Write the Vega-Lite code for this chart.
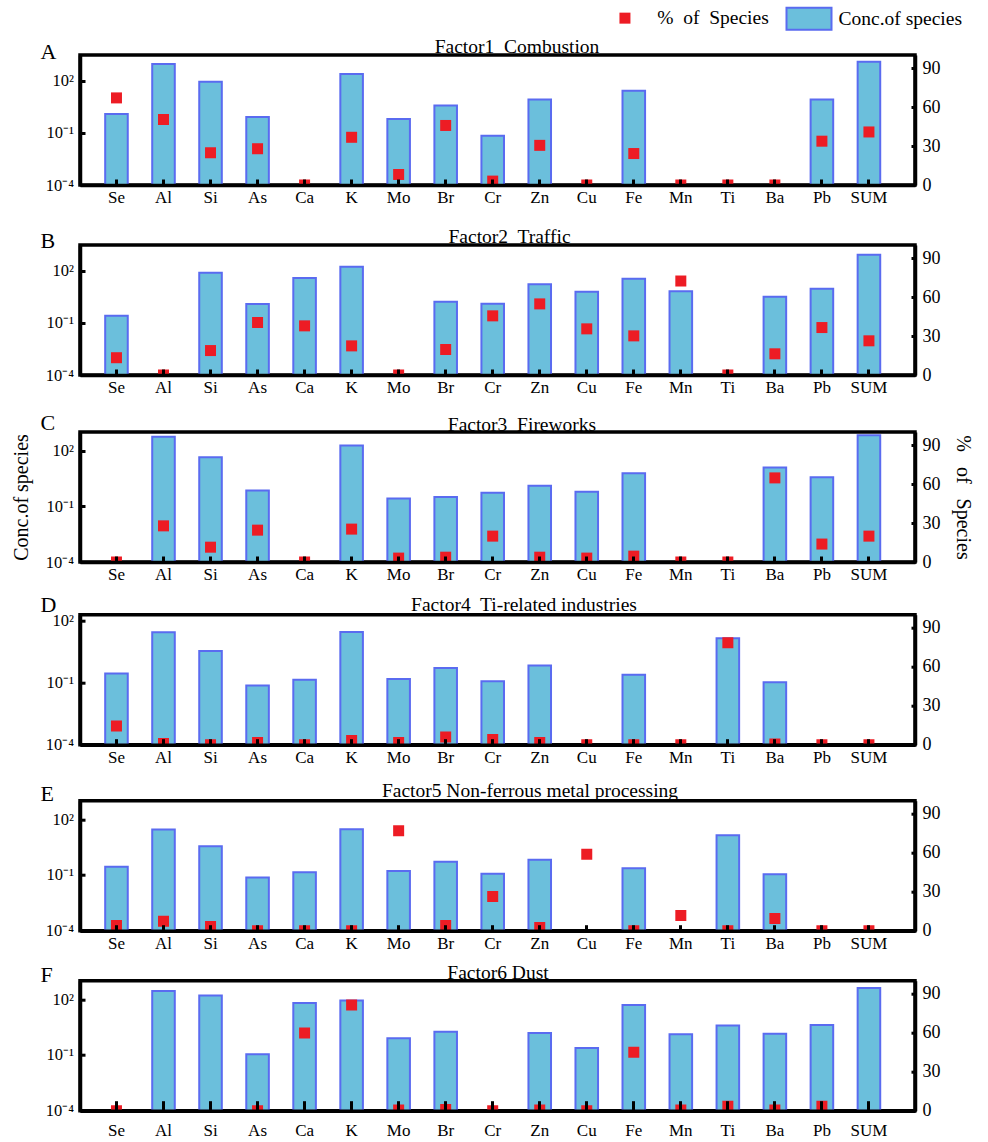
{
  "$schema": "https://vega.github.io/schema/vega-lite/v6.json",
  "background": "white",
  "padding": {"left": 9, "top": 6, "right": 5, "bottom": 5},
  "data": {
    "values": [
      {"panel": "A", "species": "Se", "conc": 1.26, "pct": 67},
      {"panel": "A", "species": "Al", "conc": 950, "pct": 50.4},
      {"panel": "A", "species": "Si", "conc": 91, "pct": 24.8},
      {"panel": "A", "species": "As", "conc": 0.83, "pct": 27.9},
      {"panel": "A", "species": "Ca", "conc": null, "pct": 0},
      {"panel": "A", "species": "K", "conc": 250, "pct": 36.7},
      {"panel": "A", "species": "Mo", "conc": 0.65, "pct": 8.1},
      {"panel": "A", "species": "Br", "conc": 3.8, "pct": 45.8},
      {"panel": "A", "species": "Cr", "conc": 0.069, "pct": 3},
      {"panel": "A", "species": "Zn", "conc": 8.7, "pct": 30.5},
      {"panel": "A", "species": "Cu", "conc": null, "pct": 0},
      {"panel": "A", "species": "Fe", "conc": 27.5, "pct": 24.2},
      {"panel": "A", "species": "Mn", "conc": null, "pct": 0},
      {"panel": "A", "species": "Ti", "conc": null, "pct": 0},
      {"panel": "A", "species": "Ba", "conc": null, "pct": 0},
      {"panel": "A", "species": "Pb", "conc": 8.7, "pct": 33.7},
      {"panel": "A", "species": "SUM", "conc": 1300, "pct": 40.8},
      {"panel": "B", "species": "Se", "conc": 0.26, "pct": 13.3},
      {"panel": "B", "species": "Al", "conc": null, "pct": 0},
      {"panel": "B", "species": "Si", "conc": 80, "pct": 18.8},
      {"panel": "B", "species": "As", "conc": 1.26, "pct": 40.4},
      {"panel": "B", "species": "Ca", "conc": 40, "pct": 37.8},
      {"panel": "B", "species": "K", "conc": 178, "pct": 22.4},
      {"panel": "B", "species": "Mo", "conc": null, "pct": 0},
      {"panel": "B", "species": "Br", "conc": 1.7, "pct": 19.6},
      {"panel": "B", "species": "Cr", "conc": 1.3, "pct": 45.5},
      {"panel": "B", "species": "Zn", "conc": 17, "pct": 54.7},
      {"panel": "B", "species": "Cu", "conc": 6.4, "pct": 35.5},
      {"panel": "B", "species": "Fe", "conc": 36, "pct": 30.1},
      {"panel": "B", "species": "Mn", "conc": 6.7, "pct": 72.3},
      {"panel": "B", "species": "Ti", "conc": null, "pct": 0},
      {"panel": "B", "species": "Ba", "conc": 3.3, "pct": 16.3},
      {"panel": "B", "species": "Pb", "conc": 9.6, "pct": 36.5},
      {"panel": "B", "species": "SUM", "conc": 870, "pct": 26.3},
      {"panel": "C", "species": "Se", "conc": null, "pct": 0},
      {"panel": "C", "species": "Al", "conc": 560, "pct": 27.8},
      {"panel": "C", "species": "Si", "conc": 44, "pct": 11.4},
      {"panel": "C", "species": "As", "conc": 0.71, "pct": 24.5},
      {"panel": "C", "species": "Ca", "conc": null, "pct": 0},
      {"panel": "C", "species": "K", "conc": 186, "pct": 25.3},
      {"panel": "C", "species": "Mo", "conc": 0.26, "pct": 3},
      {"panel": "C", "species": "Br", "conc": 0.32, "pct": 3.7},
      {"panel": "C", "species": "Cr", "conc": 0.53, "pct": 19.9},
      {"panel": "C", "species": "Zn", "conc": 1.26, "pct": 3.7},
      {"panel": "C", "species": "Cu", "conc": 0.6, "pct": 3},
      {"panel": "C", "species": "Fe", "conc": 6.0, "pct": 4.5},
      {"panel": "C", "species": "Mn", "conc": null, "pct": 0},
      {"panel": "C", "species": "Ti", "conc": null, "pct": 0},
      {"panel": "C", "species": "Ba", "conc": 12.3, "pct": 64.7},
      {"panel": "C", "species": "Pb", "conc": 3.7, "pct": 13.8},
      {"panel": "C", "species": "SUM", "conc": 665, "pct": 19.9},
      {"panel": "D", "species": "Se", "conc": 0.28, "pct": 14.4},
      {"panel": "D", "species": "Al", "conc": 28, "pct": 1},
      {"panel": "D", "species": "Si", "conc": 3.5, "pct": 0},
      {"panel": "D", "species": "As", "conc": 0.074, "pct": 1.7},
      {"panel": "D", "species": "Ca", "conc": 0.14, "pct": 0},
      {"panel": "D", "species": "K", "conc": 29, "pct": 3.3},
      {"panel": "D", "species": "Mo", "conc": 0.155, "pct": 1.7},
      {"panel": "D", "species": "Br", "conc": 0.52, "pct": 5.9},
      {"panel": "D", "species": "Cr", "conc": 0.12, "pct": 4},
      {"panel": "D", "species": "Zn", "conc": 0.69, "pct": 1.7},
      {"panel": "D", "species": "Cu", "conc": null, "pct": 0},
      {"panel": "D", "species": "Fe", "conc": 0.245, "pct": 0},
      {"panel": "D", "species": "Mn", "conc": null, "pct": 0},
      {"panel": "D", "species": "Ti", "conc": 14.4, "pct": 78.5},
      {"panel": "D", "species": "Ba", "conc": 0.107, "pct": 0.5},
      {"panel": "D", "species": "Pb", "conc": null, "pct": 0},
      {"panel": "D", "species": "SUM", "conc": null, "pct": 0},
      {"panel": "E", "species": "Se", "conc": 0.28, "pct": 4},
      {"panel": "E", "species": "Al", "conc": 28, "pct": 7.3},
      {"panel": "E", "species": "Si", "conc": 3.5, "pct": 3.2},
      {"panel": "E", "species": "As", "conc": 0.074, "pct": 0},
      {"panel": "E", "species": "Ca", "conc": 0.14, "pct": 0},
      {"panel": "E", "species": "K", "conc": 29, "pct": 0},
      {"panel": "E", "species": "Mo", "conc": 0.165, "pct": 76.9},
      {"panel": "E", "species": "Br", "conc": 0.52, "pct": 4},
      {"panel": "E", "species": "Cr", "conc": 0.118, "pct": 26.4},
      {"panel": "E", "species": "Zn", "conc": 0.67, "pct": 2.4},
      {"panel": "E", "species": "Cu", "conc": null, "pct": 58.9},
      {"panel": "E", "species": "Fe", "conc": 0.23, "pct": 0},
      {"panel": "E", "species": "Mn", "conc": null, "pct": 11.7},
      {"panel": "E", "species": "Ti", "conc": 13.8, "pct": 0},
      {"panel": "E", "species": "Ba", "conc": 0.11, "pct": 9.3},
      {"panel": "E", "species": "Pb", "conc": null, "pct": 0},
      {"panel": "E", "species": "SUM", "conc": null, "pct": 0},
      {"panel": "F", "species": "Se", "conc": null, "pct": 0},
      {"panel": "F", "species": "Al", "conc": 282, "pct": null},
      {"panel": "F", "species": "Si", "conc": 158, "pct": null},
      {"panel": "F", "species": "As", "conc": 0.11, "pct": 0},
      {"panel": "F", "species": "Ca", "conc": 63, "pct": 59.7},
      {"panel": "F", "species": "K", "conc": 85, "pct": 81.3},
      {"panel": "F", "species": "Mo", "conc": 0.8, "pct": 0.5},
      {"panel": "F", "species": "Br", "conc": 1.78, "pct": 0.9},
      {"panel": "F", "species": "Cr", "conc": null, "pct": 0},
      {"panel": "F", "species": "Zn", "conc": 1.55, "pct": 0.5},
      {"panel": "F", "species": "Cu", "conc": 0.24, "pct": 0},
      {"panel": "F", "species": "Fe", "conc": 49, "pct": 45},
      {"panel": "F", "species": "Mn", "conc": 1.3, "pct": 0.5},
      {"panel": "F", "species": "Ti", "conc": 3.9, "pct": 3.5},
      {"panel": "F", "species": "Ba", "conc": 1.4, "pct": 0.5},
      {"panel": "F", "species": "Pb", "conc": 4.1, "pct": 3.5},
      {"panel": "F", "species": "SUM", "conc": 410, "pct": null}
    ]
  },
  "bounds": "flush",
  "spacing": 60,
  "vconcat": [
    {
      "width": 835, "height": 130,
      "title": {"text": "Factor1\u00a0 Combustion", "dx": 19.5, "offset": -17},
      "transform": [{"filter": "datum.panel == 'A'"}],
      "encoding": {
        "x": {"field": "species", "type": "nominal",
          "sort": ["Se","Al","Si","As","Ca","K","Mo","Br","Cr","Zn","Cu","Fe","Mn","Ti","Ba","Pb","SUM"],
          "scale": {"paddingInner": 0.52, "paddingOuter": 0.6375, "align": 0.42},
          "axis": {"title": "A", "titleY": -127, "zindex": 1}}
      },
      "layer": [
        {
          "transform": [{"filter": "isValid(datum.conc)"}],
          "mark": {"type": "bar", "stroke": "#5a6bf0", "strokeWidth": 2},
          "encoding": {
            "y": {"field": "conc", "type": "quantitative",
              "scale": {"type": "log", "domain": [0.0001, 3162], "nice": false},
              "axis": {"title": null, "values": [0.0001, 0.1, 100], "zindex": 1}},
            "y2": {"datum": 0.0001},
            "fill": {"datum": "Conc.of species", "scale": {"range": ["#6bbfdc"]},
              "legend": {"orient": "none", "legendX": 716.5, "legendY": -48.75, "title": null,
                "symbolType": "M-2,-0.98H2V0.98H-2Z", "symbolSize": 506.25, "symbolStrokeColor": "#5a6bf0",
                "symbolStrokeWidth": 2, "labelOffset": 17}}
          }
        },
        {
          "transform": [{"filter": "isValid(datum.pct)"}],
          "mark": {"type": "square", "size": 121, "opacity": 1, "clip": true},
          "encoding": {
            "y": {"field": "pct", "type": "quantitative",
              "scale": {"domain": [0, 100], "nice": false},
              "axis": {"orient": "right", "title": null, "values": [0, 30, 60, 90], "zindex": 1}},
            "color": {"datum": "%\u00a0 of\u00a0 Species", "scale": {"range": ["#ed1c24"]},
              "legend": {"orient": "none", "legendX": 535.2, "legendY": -46.6, "title": null,
                "symbolType": "square", "symbolSize": 121, "labelOffset": 22.5}}
          }
        }
      ],
      "resolve": {"scale": {"y": "independent"}}
    },
    {
      "bounds": "flush",
      "spacing": 57,
      "vconcat": [
        {
          "width": 835, "height": 130,
          "title": {"text": "Factor2\u00a0 Traffic", "dx": 12, "offset": -18.3},
          "transform": [{"filter": "datum.panel == 'B'"}],
          "encoding": {
            "x": {"field": "species", "type": "nominal",
              "sort": ["Se","Al","Si","As","Ca","K","Mo","Br","Cr","Zn","Cu","Fe","Mn","Ti","Ba","Pb","SUM"],
              "scale": {"paddingInner": 0.52, "paddingOuter": 0.6375, "align": 0.42},
              "axis": {"title": "B", "titleY": -127.7, "zindex": 1}}
          },
          "layer": [
            {
              "transform": [{"filter": "isValid(datum.conc)"}],
              "mark": {"type": "bar", "stroke": "#5a6bf0", "strokeWidth": 2},
              "encoding": {
                "y": {"field": "conc", "type": "quantitative",
                  "scale": {"type": "log", "domain": [0.0001, 3162], "nice": false},
                  "axis": {"title": null, "values": [0.0001, 0.1, 100], "zindex": 1}},
                "y2": {"datum": 0.0001},
                "fill": {"datum": "Conc.of species", "scale": {"range": ["#6bbfdc"]}}
              }
            },
            {
              "transform": [{"filter": "isValid(datum.pct)"}],
              "mark": {"type": "square", "size": 121, "opacity": 1, "clip": true},
              "encoding": {
                "y": {"field": "pct", "type": "quantitative",
                  "scale": {"domain": [0, 100], "nice": false},
                  "axis": {"orient": "right", "title": null, "values": [0, 30, 60, 90], "zindex": 1}},
                "color": {"datum": "%\u00a0 of\u00a0 Species", "scale": {"range": ["#ed1c24"]}}
              }
            }
          ],
          "resolve": {"scale": {"y": "independent"}}
        },
        {
          "bounds": "flush",
          "spacing": 52.7,
          "vconcat": [
            {
              "width": 835, "height": 130,
              "title": {"text": "Factor3\u00a0 Fireworks", "dx": 24.5, "offset": -24},
              "transform": [{"filter": "datum.panel == 'C'"}],
              "encoding": {
                "x": {"field": "species", "type": "nominal",
                  "sort": ["Se","Al","Si","As","Ca","K","Mo","Br","Cr","Zn","Cu","Fe","Mn","Ti","Ba","Pb","SUM"],
                  "scale": {"paddingInner": 0.52, "paddingOuter": 0.6375, "align": 0.42},
                  "axis": {"title": "C", "titleY": -132.7, "zindex": 1}}
              },
              "layer": [
                {
                  "transform": [{"filter": "isValid(datum.conc)"}],
                  "mark": {"type": "bar", "stroke": "#5a6bf0", "strokeWidth": 2},
                  "encoding": {
                    "y": {"field": "conc", "type": "quantitative",
                      "scale": {"type": "log", "domain": [0.0001, 1000], "nice": false},
                      "axis": {"title": "Conc.of species", "titleFontSize": 20, "titlePadding": 13.5, "values": [0.0001, 0.1, 100], "zindex": 1}},
                    "y2": {"datum": 0.0001},
                    "fill": {"datum": "Conc.of species", "scale": {"range": ["#6bbfdc"]}}
                  }
                },
                {
                  "transform": [{"filter": "isValid(datum.pct)"}],
                  "mark": {"type": "square", "size": 121, "opacity": 1, "clip": true},
                  "encoding": {
                    "y": {"field": "pct", "type": "quantitative",
                      "scale": {"domain": [0, 100], "nice": false},
                      "axis": {"orient": "right", "title": "%\u00a0\u00a0 of\u00a0\u00a0 Species", "titleFontSize": 20, "titlePadding": 12, "values": [0, 30, 60, 90], "zindex": 1}},
                    "color": {"datum": "%\u00a0 of\u00a0 Species", "scale": {"range": ["#ed1c24"]}}
                  }
                }
              ],
              "resolve": {"scale": {"y": "independent"}}
            },
            {
              "bounds": "flush",
              "spacing": 56,
              "vconcat": [
                {
                  "width": 835, "height": 130,
                  "title": {"text": "Factor4\u00a0 Ti-related industries", "dx": 26.5, "offset": -21.7},
                  "transform": [{"filter": "datum.panel == 'D'"}],
                  "encoding": {
                    "x": {"field": "species", "type": "nominal",
                      "sort": ["Se","Al","Si","As","Ca","K","Mo","Br","Cr","Zn","Cu","Fe","Mn","Ti","Ba","Pb","SUM"],
                      "scale": {"paddingInner": 0.52, "paddingOuter": 0.6375, "align": 0.42},
                      "axis": {"title": "D", "titleY": -133, "zindex": 1}}
                  },
                  "layer": [
                    {
                      "transform": [{"filter": "isValid(datum.conc)"}],
                      "mark": {"type": "bar", "stroke": "#5a6bf0", "strokeWidth": 2},
                      "encoding": {
                        "y": {"field": "conc", "type": "quantitative",
                          "scale": {"type": "log", "domain": [0.0001, 200], "nice": false},
                          "axis": {"title": null, "values": [0.0001, 0.1, 100], "zindex": 1}},
                        "y2": {"datum": 0.0001},
                        "fill": {"datum": "Conc.of species", "scale": {"range": ["#6bbfdc"]}}
                      }
                    },
                    {
                      "transform": [{"filter": "isValid(datum.pct)"}],
                      "mark": {"type": "square", "size": 121, "opacity": 1, "clip": true},
                      "encoding": {
                        "y": {"field": "pct", "type": "quantitative",
                          "scale": {"domain": [0, 100], "nice": false},
                          "axis": {"orient": "right", "title": null, "values": [0, 30, 60, 90], "zindex": 1}},
                        "color": {"datum": "%\u00a0 of\u00a0 Species", "scale": {"range": ["#ed1c24"]}}
                      }
                    }
                  ],
                  "resolve": {"scale": {"y": "independent"}}
                },
                {
                  "bounds": "flush",
                  "spacing": 50,
                  "vconcat": [
                    {
                      "width": 835, "height": 130,
                      "title": {"text": "Factor5 Non-ferrous metal processing", "dx": 32.5, "offset": -18.6},
                      "transform": [{"filter": "datum.panel == 'E'"}],
                      "encoding": {
                        "x": {"field": "species", "type": "nominal",
                          "sort": ["Se","Al","Si","As","Ca","K","Mo","Br","Cr","Zn","Cu","Fe","Mn","Ti","Ba","Pb","SUM"],
                          "scale": {"paddingInner": 0.52, "paddingOuter": 0.6375, "align": 0.42},
                          "axis": {"title": "E", "titleY": -130, "zindex": 1}}
                      },
                      "layer": [
                        {
                          "transform": [{"filter": "isValid(datum.conc)"}],
                          "mark": {"type": "bar", "stroke": "#5a6bf0", "strokeWidth": 2},
                          "encoding": {
                            "y": {"field": "conc", "type": "quantitative",
                              "scale": {"type": "log", "domain": [0.0001, 1000], "nice": false},
                              "axis": {"title": null, "values": [0.0001, 0.1, 100], "zindex": 1}},
                            "y2": {"datum": 0.0001},
                            "fill": {"datum": "Conc.of species", "scale": {"range": ["#6bbfdc"]}}
                          }
                        },
                        {
                          "transform": [{"filter": "isValid(datum.pct)"}],
                          "mark": {"type": "square", "size": 121, "opacity": 1, "clip": true},
                          "encoding": {
                            "y": {"field": "pct", "type": "quantitative",
                              "scale": {"domain": [0, 100], "nice": false},
                              "axis": {"orient": "right", "title": null, "values": [0, 30, 60, 90], "zindex": 1}},
                            "color": {"datum": "%\u00a0 of\u00a0 Species", "scale": {"range": ["#ed1c24"]}}
                          }
                        }
                      ],
                      "resolve": {"scale": {"y": "independent"}}
                    },
                    {
                      "width": 835, "height": 130,
                      "title": {"text": "Factor6 Dust", "dx": 0.5, "offset": -19.3},
                      "transform": [{"filter": "datum.panel == 'F'"}],
                      "encoding": {
                        "x": {"field": "species", "type": "nominal",
                          "sort": ["Se","Al","Si","As","Ca","K","Mo","Br","Cr","Zn","Cu","Fe","Mn","Ti","Ba","Pb","SUM"],
                          "scale": {"paddingInner": 0.52, "paddingOuter": 0.6375, "align": 0.42},
                          "axis": {"title": "F", "titleY": -128.7, "tickSize": -10, "labelPadding": 21.3, "zindex": 1}}
                      },
                      "layer": [
                        {
                          "transform": [{"filter": "isValid(datum.conc)"}],
                          "mark": {"type": "bar", "stroke": "#5a6bf0", "strokeWidth": 2},
                          "encoding": {
                            "y": {"field": "conc", "type": "quantitative",
                              "scale": {"type": "log", "domain": [0.0001, 1000], "nice": false},
                              "axis": {"title": null, "values": [0.0001, 0.1, 100], "zindex": 1}},
                            "y2": {"datum": 0.0001},
                            "fill": {"datum": "Conc.of species", "scale": {"range": ["#6bbfdc"]}}
                          }
                        },
                        {
                          "transform": [{"filter": "isValid(datum.pct)"}],
                          "mark": {"type": "square", "size": 121, "opacity": 1, "clip": true},
                          "encoding": {
                            "y": {"field": "pct", "type": "quantitative",
                              "scale": {"domain": [0, 100], "nice": false},
                              "axis": {"orient": "right", "title": null, "values": [0, 30, 60, 90], "zindex": 1}},
                            "color": {"datum": "%\u00a0 of\u00a0 Species", "scale": {"range": ["#ed1c24"]}}
                          }
                        }
                      ],
                      "resolve": {"scale": {"y": "independent"}}
                    }
                  ]
                }
              ]
            }
          ]
        }
      ]
    }
  ],
  "config": {
    "font": "Liberation Serif",
    "view": {"stroke": "black", "strokeWidth": 3.5},
    "axis": {
      "grid": false, "domainColor": "black", "domainWidth": 3.5, "tickColor": "black", "tickWidth": 3,
      "labelColor": "black", "labelFont": "Liberation Serif",
      "titleFont": "Liberation Serif", "titleFontWeight": "normal", "titleColor": "black"
    },
    "axisX": {"labelAngle": 0, "labelFontSize": 17, "tickSize": -6, "labelPadding": 10.5,
      "titleFontSize": 22, "titleAngle": 0, "titleAlign": "left", "titleBaseline": "alphabetic", "titleX": -40},
    "axisLeft": {"tickSize": -5, "labelPadding": 11.5, "labelFontSize": 16.5,
      "labelExpr": "datum.value > 10 ? '10²' : datum.value > 0.01 ? '10⁻¹' : '10⁻⁴'"},
    "axisRight": {"tickSize": -4, "labelPadding": 11, "labelFontSize": 18},
    "title": {"font": "Liberation Serif", "fontSize": 19.5, "fontWeight": "normal", "color": "black", "anchor": "middle"},
    "legend": {"labelFont": "Liberation Serif", "labelFontSize": 19.5, "labelColor": "black", "labelLimit": 300, "padding": 0}
  }
}
